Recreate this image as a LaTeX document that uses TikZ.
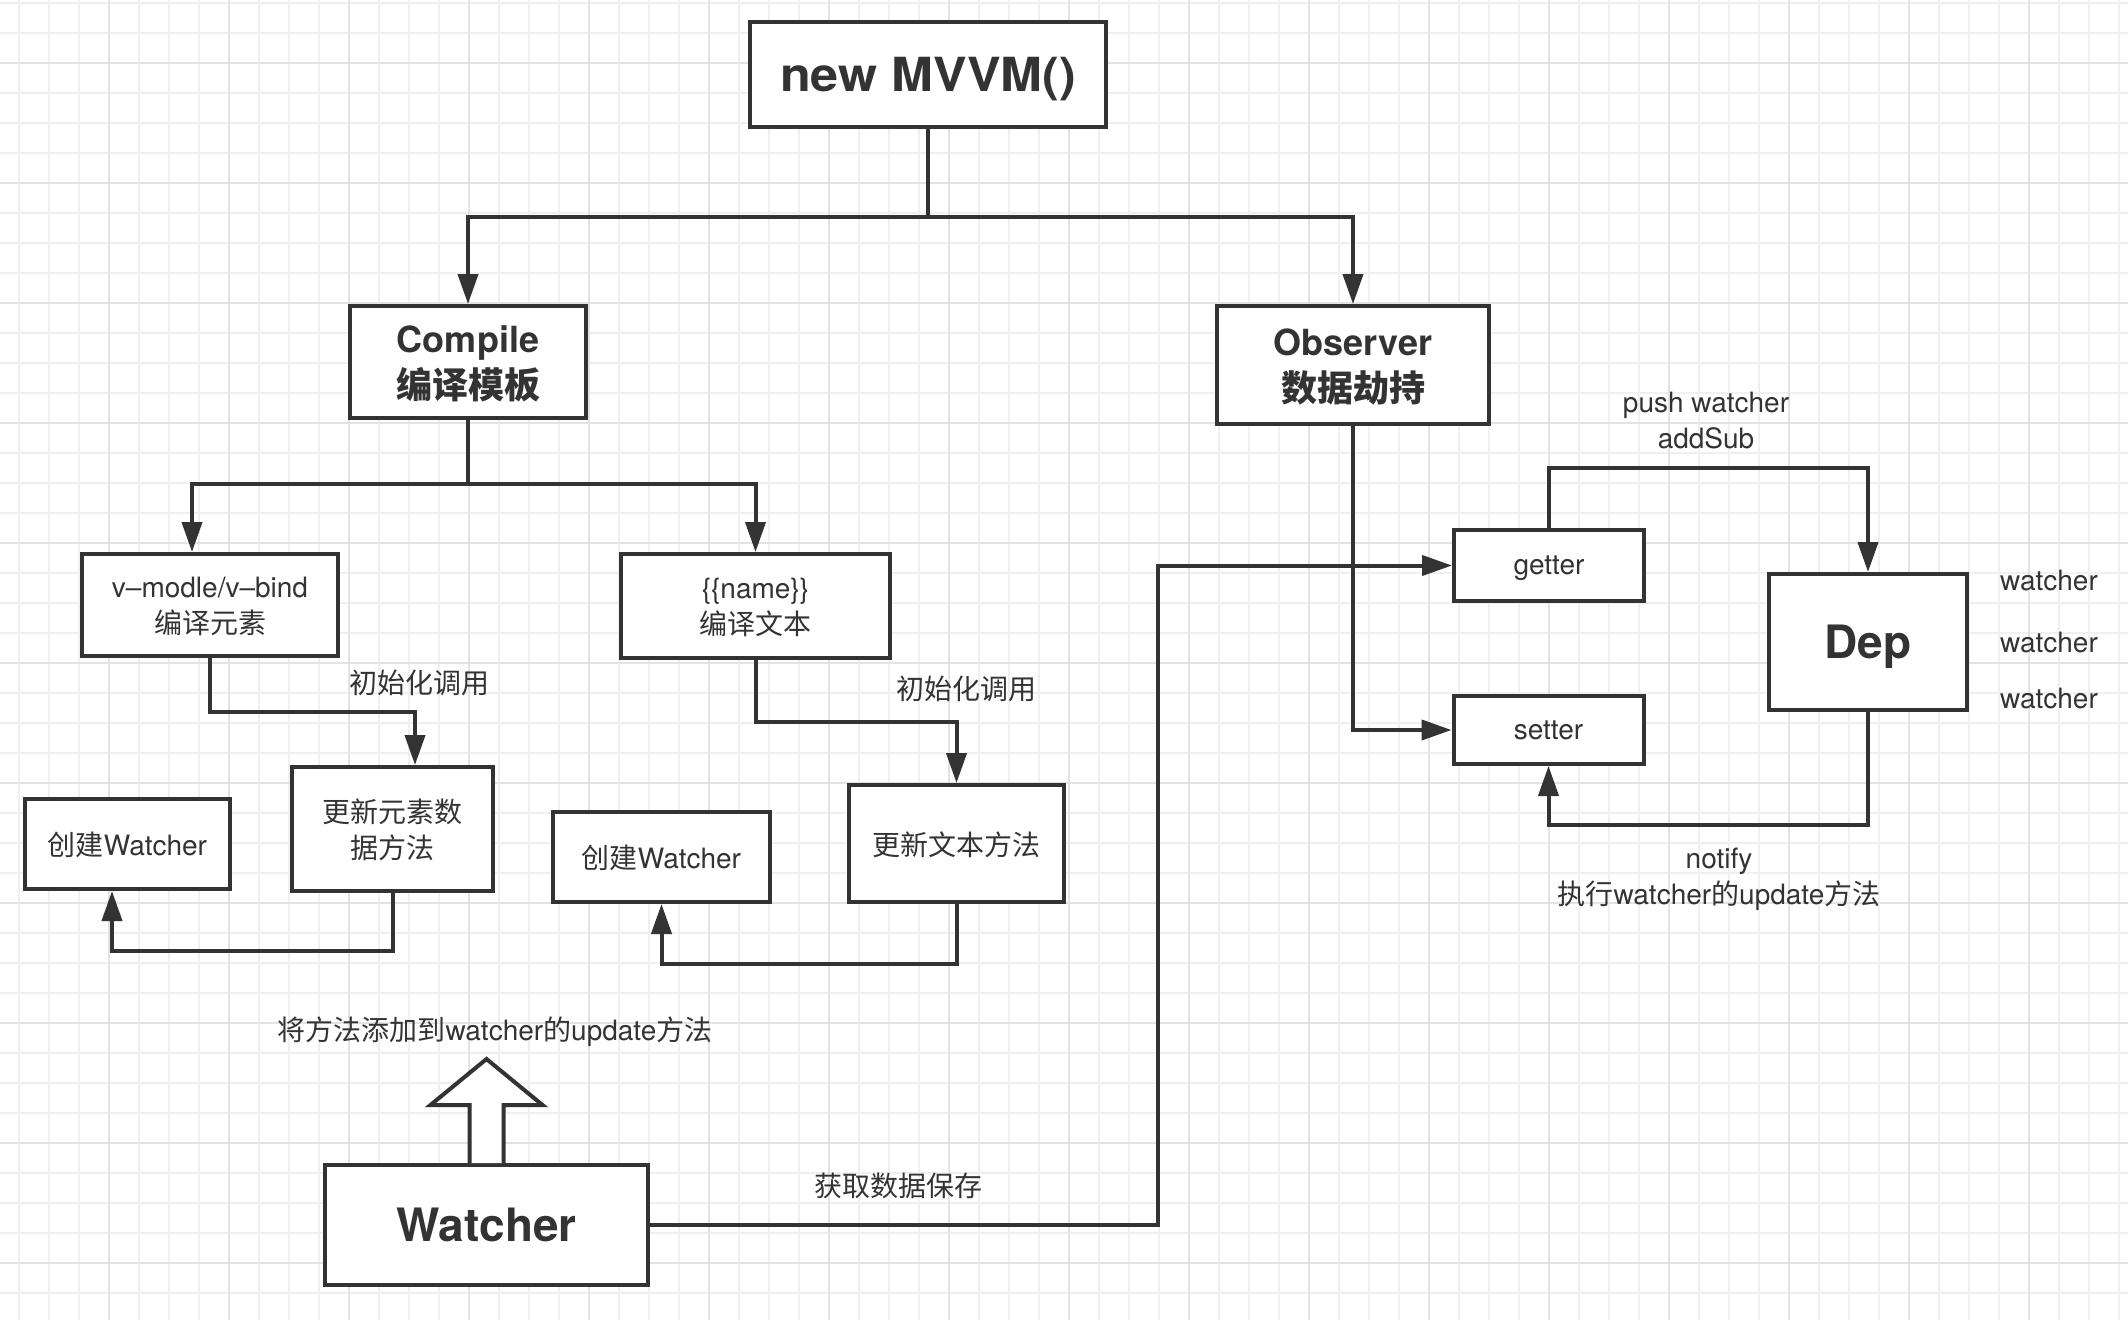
\documentclass[tikz,border=0pt]{standalone}
\usepackage{fontspec}
\usepackage{graphicx}
\setmainfont{TeX Gyre Heros}
\newfontfamily\cjk{Noto Sans CJK SC}
\usetikzlibrary{arrows.meta}
\definecolor{lc}{HTML}{333333}
\definecolor{gmin}{HTML}{F0F0F0}
\definecolor{gmaj}{HTML}{E3E3E3}
\newcommand\zh[1]{{\cjk #1}}
\newcommand\fsS{\fontsize{28}{36}\selectfont}
\newcommand\fsM{\fontsize{36}{46}\selectfont\bfseries}
\newcommand\fsL{\fontsize{46}{52}\selectfont\bfseries}
\newcommand\fsXL{\fontsize{47}{52}\selectfont\bfseries}
\begin{document}
\begin{tikzpicture}[x=1pt,y=-1pt,
 box/.style={draw=lc, line width=4pt, fill=white, inner sep=0pt, align=center, text=lc, text depth=0pt},
 lbl/.style={inner sep=0pt, align=center, text=lc, font=\fsS},
 arr/.style={draw=lc, line width=4pt, -{Triangle[length=30pt,width=20pt]}},
 ln/.style={draw=lc, line width=4pt},
 gminor/.style={draw=gmin, line width=1.6pt},
 gmajor/.style={draw=gmaj, line width=2pt},
]
\useasboundingbox[fill=white] (0,0) rectangle (2128,1320);
% grid
\foreach \i in {0,...,70} { \draw[gminor] ({19+30*\i},0) -- ({19+30*\i},1320); }
\foreach \i in {0,...,43} { \draw[gminor] (0,{3+30*\i}) -- (2128,{3+30*\i}); }
\foreach \i in {0,...,17} { \draw[gmajor] ({109+120*\i},0) -- ({109+120*\i},1320); }
\foreach \i in {0,...,10} { \draw[gmajor] (0,{63+120*\i}) -- (2128,{63+120*\i}); }

% nodes
\node[box, minimum width=356pt, minimum height=105pt, font=\fsXL] (mvvm) at (928,74.5) {\scalebox{1.07}[1]{new MVVM()}};
\node[box, minimum width=236pt, minimum height=112pt, font=\fsM] (compile) at (468,362) {Compile\\\zh{编译模板}};
\node[box, minimum width=272pt, minimum height=118pt, font=\fsM] (observer) at (1353,365) {Observer\\\zh{数据劫持}};
\node[box, minimum width=256pt, minimum height=102pt, font=\fsS] (vmodel) at (210,605) {v–modle/v–bind\\\zh{编译元素}};
\node[box, minimum width=269pt, minimum height=104pt, font=\fsS] (name) at (755.5,606) {\{\{name\}\}\\\zh{编译文本}};
\node[box, minimum width=201pt, minimum height=124pt, font=\fsS] (updel) at (392.5,829) {\zh{更新元素数}\\\zh{据方法}};
\node[box, minimum width=205pt, minimum height=90pt, font=\fsS] (cw1) at (127.5,844) {\zh{创建}Watcher};
\node[box, minimum width=215pt, minimum height=117pt, font=\fsS] (updtxt) at (956.5,843.5) {\zh{更新文本方法}};
\node[box, minimum width=217pt, minimum height=90pt, font=\fsS] (cw2) at (661.5,857) {\zh{创建}Watcher};
\node[box, minimum width=323pt, minimum height=120pt, font=\fsL] (watcher) at (486.5,1225) {Watcher};
\node[box, minimum width=190pt, minimum height=71pt, font=\fsS] (getter) at (1549,565.5) {getter};
\node[box, minimum width=190pt, minimum height=68pt, font=\fsS] (setter) at (1548.5,730) {setter};
\node[box, minimum width=198pt, minimum height=136pt, font=\fsL] (dep) at (1868,642) {Dep};

% labels
\node[lbl] (l1) at (419,683) {\zh{初始化调用}};
\node[lbl] (l2) at (966,689) {\zh{初始化调用}};
\node[lbl] (l3) at (495,1032) {\zh{将方法添加到}watcher\zh{的}update\zh{方法}};
\node[lbl] (l4) at (898,1186) {\zh{获取数据保存}};
\node[lbl] (l5) at (1706,421) {push watcher\\addSub};
\node[lbl] (l6) at (1719,879) {notify\\\zh{执行}watcher\zh{的}update\zh{方法}};
\node[lbl, anchor=base] (w1) at (2049,590) {watcher};
\node[lbl, anchor=base] (w2) at (2049,652) {watcher};
\node[lbl, anchor=base] (w3) at (2049,708) {watcher};

% connectors
\draw[ln] (mvvm.south) -- ++(0,88) coordinate (j1);
\draw[arr] (j1) -| (compile.north);
\draw[arr] (j1) -| (observer.north);
\draw[ln] (compile.south) -- ++(0,64) coordinate (j2);
\draw[arr] (j2) -| ([xshift=112pt]vmodel.north west);
\draw[arr] (j2) -| (name.north);
\draw[arr] (vmodel.south) -- ++(0,54) -| ([xshift=125pt]updel.north west);
\draw[arr] (updel.south) -- ++(0,58) -| ([xshift=89pt]cw1.south west);
\draw[arr] (name.south) -- ++(0,62) -| (updtxt.north);
\draw[arr] (updtxt.south) -- ++(0,60) -| (cw2.south);
\draw[arr] (observer.south) |- (setter.west);
\draw[arr] (watcher.east) -- ++(508,0) |- (getter.west);
\draw[arr] (getter.north) -- ++(0,-60) -| (dep.north);
\draw[arr] (dep.south) -- ++(0,113) -| (setter.south);

% hollow arrow
\draw[draw=lc, line width=4pt, fill=white, line join=miter]
  ([xshift=-17pt]watcher.north) -- ++(0,-58) -- ++(-39,0) -- ++(56,-46)
  -- ++(56,46) -- ++(-39,0) -- ++(0,58);
\end{tikzpicture}
\end{document}
